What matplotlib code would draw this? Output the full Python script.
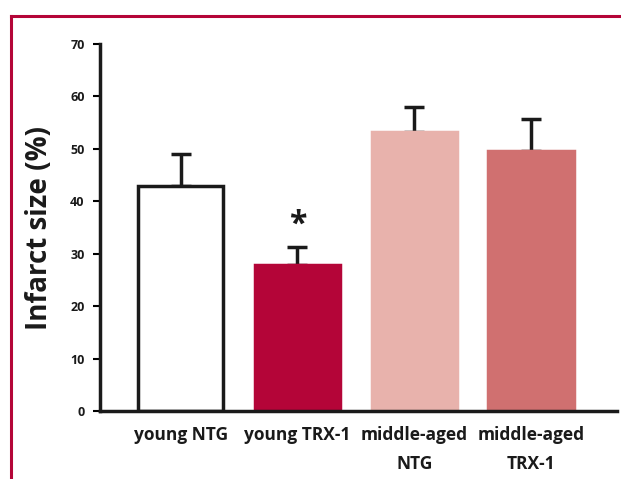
import numpy as np
import matplotlib.pyplot as plt
from matplotlib.lines import Line2D

# bar data
groups = ["young NTG", "young TRX-1", "middle-aged\nNTG", "middle-aged\nTRX-1"]
infarct = [43.0, 27.9, 53.2, 49.6]
sem = [6.0, 3.4, 4.7, 6.1]
fills = ["white", "#B40538", "#E8B2AC", "#D07070"]
edges = ["#1a1a1a", "#B40538", "#E8B2AC", "#D07070"]
y_ticks = [0, 10, 20, 30, 40, 50, 60, 70]

plt.rcParams["font.family"] = ["Open Sans", "DejaVu Sans"]
plt.rcParams["font.weight"] = "bold"

fig = plt.figure(figsize=(6.21, 4.79), dpi=100)
ax = fig.add_axes([100 / 621, 68 / 479, 517 / 621, 367 / 479])

x = np.arange(len(groups))
ax.bar(x, infarct, width=0.73, color=fills, edgecolor=edges, linewidth=2.5, zorder=2)
ax.errorbar(x, infarct, yerr=[np.zeros(len(sem)), sem], fmt="none", ecolor="#1a1a1a",
            elinewidth=2.5, capsize=7, capthick=2.5, zorder=1)
ax.text(x[1], infarct[1] + sem[1] + 4.2, "*", ha="center", va="center",
        fontsize=23, fontweight="bold", color="#1a1a1a")

ax.set_xlim(-0.69, 3.735)
ax.set_ylim(0, 70)
ax.set_yticks(y_ticks)
ax.set_yticklabels([str(t) for t in y_ticks], fontsize=9, fontweight="bold", color="#1a1a1a")
ax.set_xticks(x)
ax.set_xticklabels(groups, fontsize=12.5, fontweight="bold", color="#1a1a1a", linespacing=1.8,
                   va="top")
ax.tick_params(axis="x", length=0, pad=11)
ax.tick_params(axis="y", length=5, width=1.5, direction="out", pad=6)
ax.set_ylabel("Infarct size (%)", fontsize=20, fontweight="bold", color="#1a1a1a", labelpad=12)

for s in ["top", "right"]:
    ax.spines[s].set_visible(False)
for s in ["left", "bottom"]:
    ax.spines[s].set_linewidth(2.5)
    ax.spines[s].set_color("#1a1a1a")

# crimson frame on the top and left of the panel
frame = "#B40538"
fig.add_artist(Line2D([11 / 621, 1.0], [1 - 16 / 479, 1 - 16 / 479], color=frame, lw=2.2))
fig.add_artist(Line2D([11 / 621, 11 / 621], [0.0, 1 - 16 / 479], color=frame, lw=2.2))

fig.savefig("out.png", dpi=100)
